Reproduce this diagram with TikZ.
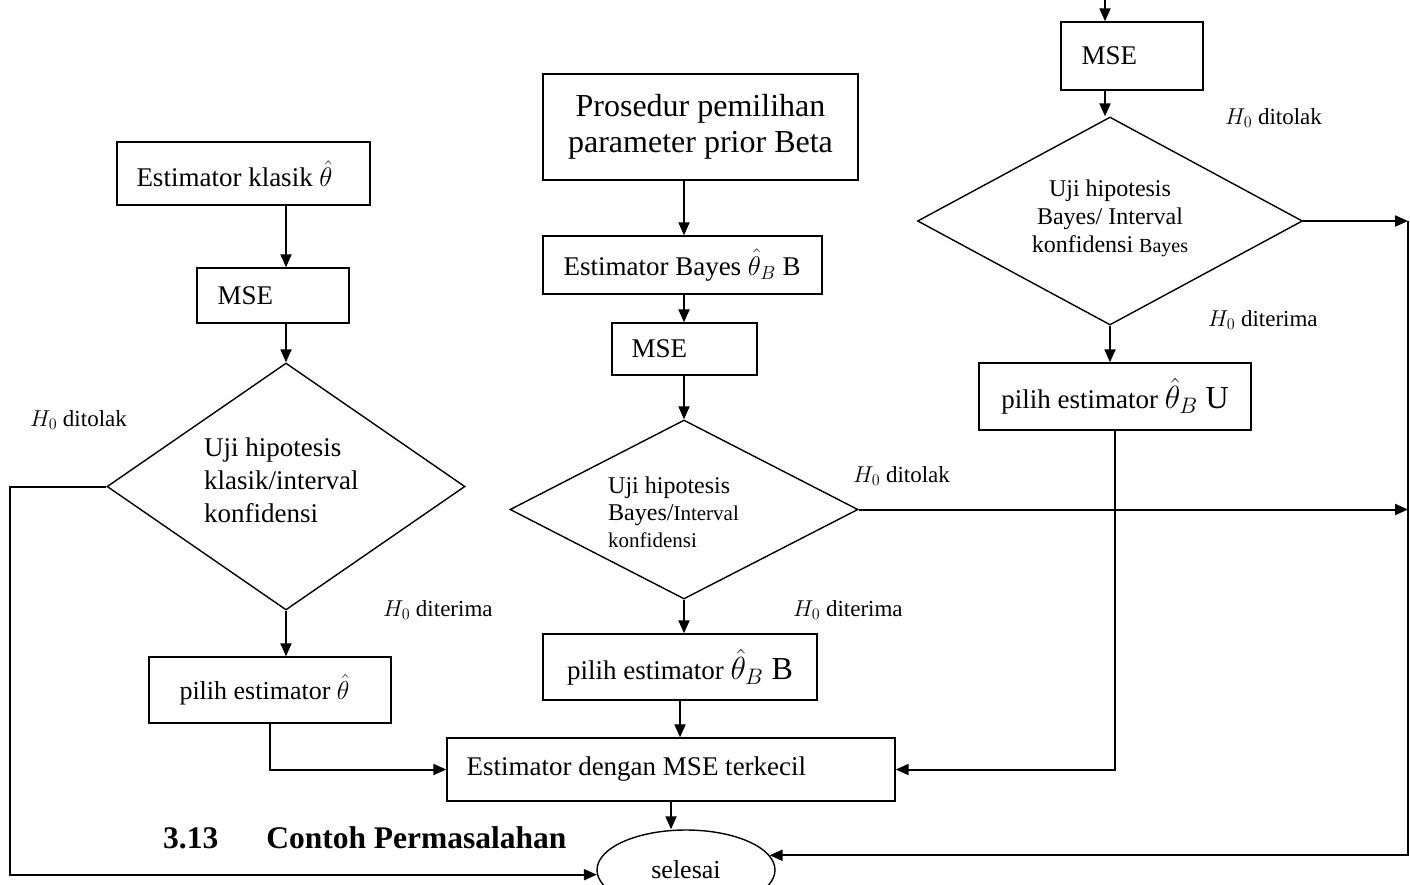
\RequirePackage{fix-cm}
\documentclass[tikz,border=0pt]{standalone}
\usepackage{fontspec}
\setmainfont{Liberation Serif}
\usetikzlibrary{arrows.meta,shapes.geometric}
\newcommand\fsz[2]{\fontsize{#1}{#2}\selectfont}
\begin{document}
\begin{tikzpicture}[x=1pt,y=-1pt,
  bx/.style={draw, line width=1.4pt, inner sep=0pt},
  txt/.style={inner sep=0pt, font=\fsz{27}{32}},
  dia/.style={draw, diamond, line width=1.4pt, inner sep=0pt},
  arr/.style={line width=2pt, -{Triangle[length=13pt,width=11pt]}},
  lab/.style={font=\fsz{23}{27}, anchor=west, inner sep=0pt}]
\clip (0,0) rectangle (1410,884);
\fill[white] (0,0) rectangle (1410,884);

% left column
\node[bx, minimum width=253pt, minimum height=63pt] (e1) at (243.5,173.5) {};
\node[txt, anchor=west] (e1t) at ([xshift=20pt]e1.west) {Estimator klasik $\hat{\theta}$};
\node[bx, minimum width=152pt, minimum height=55pt] (m1) at (273,295.5) {};
\node[txt, anchor=west] (m1t) at ([xshift=21pt]m1.west) {MSE};
\node[dia, minimum width=358pt, minimum height=247pt] (d1) at (286,486.5) {};
\node[font=\fsz{27}{33}, align=left, anchor=west, inner sep=0pt] (t1) at (204,480) {Uji hipotesis\\klasik/interval\\konfidensi};
\node[bx, minimum width=242pt, minimum height=66pt] (p1) at (270,690) {};
\node[txt, anchor=west, font=\fsz{26}{30}] (p1t) at ([xshift=31pt]p1.west) {pilih estimator $\hat{\theta}$};

% middle column
\node[bx, minimum width=315pt, minimum height=106pt] (pr) at (700.5,127) {};
\node[txt, align=center, font=\fsz{32}{36}] (prt) at (pr) {Prosedur pemilihan\\parameter prior Beta};
\node[bx, minimum width=279pt, minimum height=58pt] (eb) at (682.5,265) {};
\node[txt, anchor=west] (ebt) at ([xshift=21pt]eb.west) {Estimator Bayes $\hat{\theta}_B$ B};
\node[bx, minimum width=145pt, minimum height=52pt] (m2) at (684.5,349) {};
\node[txt, anchor=west] (m2t) at ([xshift=20pt]m2.west) {MSE};
\node[dia, minimum width=348pt, minimum height=179pt] (d2) at (684,509.5) {};
\node[font=\fsz{24}{27}, align=left, anchor=west, inner sep=0pt] (t2) at (608,512) {Uji hipotesis\\Bayes/{\fsz{21}{27}Interval}\\{\fsz{21}{25}konfidensi}};
\node[bx, minimum width=274pt, minimum height=66pt] (p2) at (680,667) {};
\node[txt] (p2t) at (p2) {pilih estimator {\fsz{32}{36}$\hat{\theta}_B$ B}};
\node[bx, minimum width=448pt, minimum height=63pt] (es) at (671,769.5) {};
\node[txt, anchor=west] (est) at ([xshift=20pt]es.west) {Estimator dengan MSE terkecil};
\node[draw, ellipse, line width=1.4pt, minimum width=178pt, minimum height=80pt, inner sep=0pt, font=\fsz{26}{30}] (sel) at (686,870) {selesai};

% right column
\node[bx, minimum width=142pt, minimum height=68pt] (m3) at (1132,56) {};
\node[txt, anchor=west] (m3t) at ([xshift=21pt]m3.west) {MSE};
\node[dia, minimum width=385pt, minimum height=208pt] (d3) at (1110,221) {};
\node[font=\fsz{24}{28}, align=center, inner sep=0pt] (t3) at (1110,218) {Uji hipotesis\\Bayes/ Interval\\konfidensi {\fsz{20}{24}Bayes}};
\node[bx, minimum width=272pt, minimum height=67pt] (p3) at (1115,396.5) {};
\node[txt] (p3t) at (p3) {pilih estimator {\fsz{32}{36}$\hat{\theta}_B$ U}};

% labels
\node[lab] (l1) at (30,420) {$H_0$ ditolak};
\node[lab] (l2) at (383,610) {$H_0$ diterima};
\node[lab] (l3) at (853,476) {$H_0$ ditolak};
\node[lab] (l4) at (793,610) {$H_0$ diterima};
\node[lab] (l5) at (1225,118) {$H_0$ ditolak};
\node[lab] (l6) at (1208,320) {$H_0$ diterima};
\node[font=\fsz{31.5}{36}\bfseries, anchor=west, inner sep=0pt] (ttl) at (163,838) {3.13\hspace{48pt}Contoh Permasalahan};

% coordinates
\coordinate (top) at (1105,0);
\coordinate (rl) at (1408,218);
\coordinate (lx) at (10,0);

% connectors left
\draw[arr] (e1.south -| d1.north) -- (m1.north -| d1.north);
\draw[arr] (m1.south -| d1.north) -- (d1.north);
\draw[arr] (d1.south) -- (d1.south |- p1.north);
\draw[arr] (p1.south) |- (es.west);
\draw[arr] (d1.west) -- (d1.west -| lx) |- (sel.183);

% connectors middle
\draw[arr] (pr.south -| d2.north) -- (eb.north -| d2.north);
\draw[arr] (eb.south -| d2.north) -- (m2.north -| d2.north);
\draw[arr] (m2.south -| d2.north) -- (d2.north);
\draw[arr] (d2.east) -- (d2.east -| rl);
\draw[arr] (d2.south) -- (d2.south |- p2.north);
\draw[arr] (p2.south) -- (p2.south |- es.north);
\draw[arr] (es.south) -- (es.south |- sel.north);

% connectors right
\draw[arr] (top) -- (top |- m3.north);
\draw[arr] (top |- m3.south) -- (top |- d3.north);
\draw[arr] (d3.east) -- (d3.east -| rl);
\draw[arr] (d3.south) -- (d3.south |- p3.north);
\draw[arr] (p3.south) |- (es.east);
\draw[arr] (d3.east -| rl) |- (sel.10);
\end{tikzpicture}
\end{document}
